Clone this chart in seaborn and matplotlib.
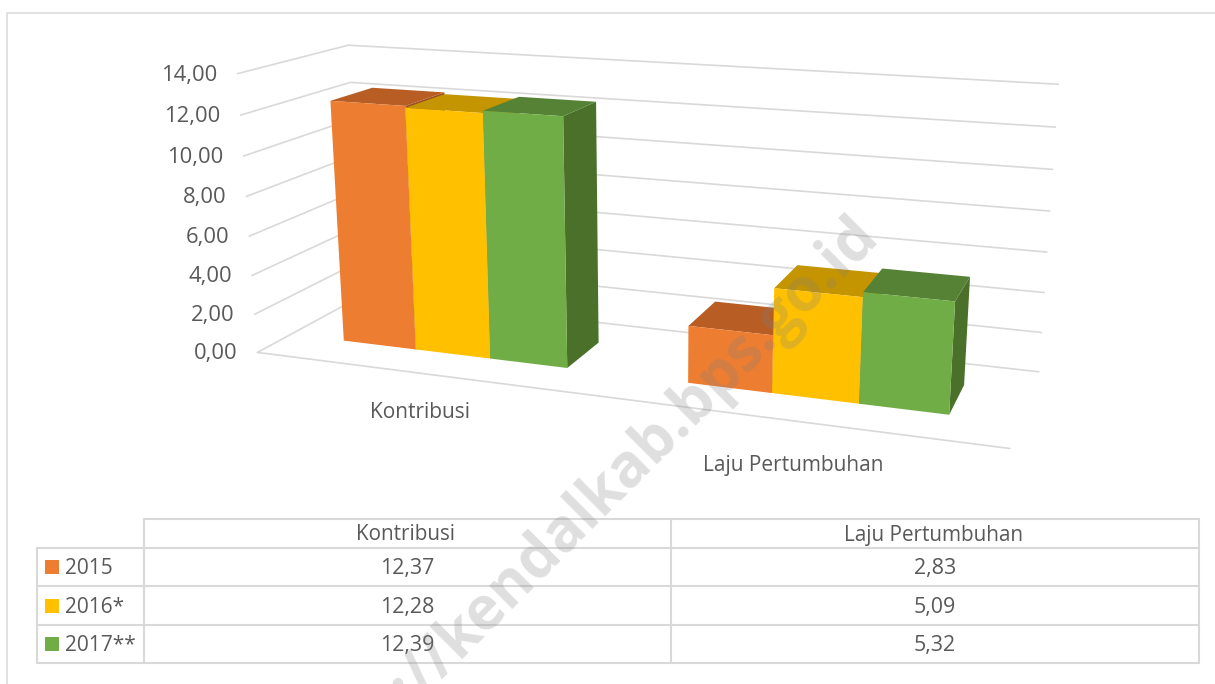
import numpy as np
import pandas as pd
import matplotlib
matplotlib.use('Agg')
import matplotlib.pyplot as plt
from matplotlib.patches import Polygon, Rectangle
import seaborn as sns

categories = ['Kontribusi', 'Laju Pertumbuhan']
years = ['2015', '2016*', '2017**']
values_2015 = [12.37, 2.83]
values_2016 = [12.28, 5.09]
values_2017 = [12.39, 5.32]
value_ticks = [0, 2, 4, 6, 8, 10, 12, 14]

front_colors = ['#ED7D31', '#FFC000', '#70AD47']
top_colors = ['#B85E25', '#C49500', '#558235']
side_colors = ['#9E5020', '#A88000', '#4A7029']
grid_color = '#D9D9D9'
text_color = '#595959'

# where the corners of the 3D box sit on the canvas, per gridline (0 to 14)
front_left_x = [257, 254, 252, 249, 247, 243, 241, 238]
front_left_y = [352, 314, 276, 236, 196, 157, 116, 73]
back_left_x = [362, 360, 358, 356, 354, 352, 350, 348]
back_left_y = [296, 262, 227, 191, 154, 119, 83, 45]
back_right_x = [1039, 1041, 1044, 1047, 1049, 1053, 1056, 1058]
back_right_y = [372, 333, 292, 252, 212, 169, 127, 84]
front_right_floor = (1010, 448)

group_centers = [0.25, 0.75]
bar_width = 0.111
bar_depth = (0.30, 0.70)


def fit_camera():
    # plain DLT fit from box corners to canvas pixels
    rows, rhs = [], []
    pts = []
    for i, v in enumerate(value_ticks):
        pts.append((0, 0, v / 14, front_left_x[i], front_left_y[i]))
        pts.append((0, 1, v / 14, back_left_x[i], back_left_y[i]))
        pts.append((1, 1, v / 14, back_right_x[i], back_right_y[i]))
    pts.append((1, 0, 0, front_right_floor[0], front_right_floor[1]))
    for u, d, v, x, y in pts:
        rows.append([u, d, v, 1, 0, 0, 0, 0, -x * u, -x * d, -x * v])
        rhs.append(x)
        rows.append([0, 0, 0, 0, u, d, v, 1, -y * u, -y * d, -y * v])
        rhs.append(y)
    p = np.linalg.lstsq(np.array(rows, float), np.array(rhs, float), rcond=None)[0]
    return np.append(p, 1).reshape(3, 4)


camera = fit_camera()


def project(u, d, v):
    x, y, w = camera @ np.array([u, d, v / 14, 1.0])
    return x / w, y / w


sns.set_theme(style='white')
plt.rcParams['font.family'] = ['Open Sans', 'DejaVu Sans']
palette = sns.color_palette(front_colors)

fig = plt.figure(figsize=(12.15, 6.84), dpi=100)
ax = fig.add_axes([0, 0, 1, 1])
ax.set_xlim(0, 1215)
ax.set_ylim(684, 0)
ax.axis('off')

# outer frame of the screenshot
ax.plot([7, 7, 1215], [684, 13, 13], color=grid_color, lw=1.1)

# gridlines on left wall and back wall, plus the front floor edge
rows = []
for v in value_ticks:
    for order, (u, d) in enumerate([(0, 0), (0, 1), (1, 1)]):
        x, y = project(u, d, v)
        rows.append({'x': x, 'y': y, 'line': f'v{v}', 'order': order})
for order, u in enumerate([0, 1]):
    x, y = project(u, 0, 0)
    rows.append({'x': x, 'y': y, 'line': 'floor', 'order': order})
grid_df = pd.DataFrame(rows)
sns.lineplot(data=grid_df, x='x', y='y', units='line', estimator=None, sort=False,
             color=grid_color, lw=1.2, ax=ax, legend=False)
ax.set_xlim(0, 1215)
ax.set_ylim(684, 0)

for v in value_ticks:
    x, y = project(0, 0, v)
    ax.text(x - 20, y + 1.5, f'{v:.2f}'.replace('.', ','), ha='right', va='center',
            fontsize=15.8, color=text_color)

series = [values_2015, values_2016, values_2017]
d0, d1 = bar_depth
for g, center in enumerate(group_centers):
    left = center - 1.5 * bar_width
    for s, vals in enumerate(series):
        u0 = left + s * bar_width
        u1 = u0 + bar_width
        v = vals[g]
        side = [project(u1, d0, 0), project(u1, d1, 0), project(u1, d1, v), project(u1, d0, v)]
        top = [project(u0, d0, v), project(u1, d0, v), project(u1, d1, v), project(u0, d1, v)]
        front = [project(u0, d0, 0), project(u1, d0, 0), project(u1, d0, v), project(u0, d0, v)]
        ax.add_patch(Polygon(side, closed=True, fc=side_colors[s], ec='none', zorder=3))
        ax.add_patch(Polygon(top, closed=True, fc=top_colors[s], ec='none', zorder=3))
        ax.add_patch(Polygon(front, closed=True, fc=palette[s], ec='none', zorder=3))

ax.text(420, 412, categories[0], ha='center', va='center', fontsize=15, color=text_color)
ax.text(793, 466, categories[1], ha='center', va='center', fontsize=15, color=text_color)

# data table under the chart
table_left, table_key, table_mid, table_right = 37, 144, 671, 1199
table_y = [519, 548, 586, 625, 663]
row_y = [567, 606, 644]
ax.plot([table_key, table_right], [table_y[0]] * 2, color=grid_color, lw=1.5)
for y in table_y[1:]:
    ax.plot([table_left, table_right], [y, y], color=grid_color, lw=1.5)
ax.plot([table_left, table_left], [table_y[1], table_y[4]], color=grid_color, lw=1.5)
for x in [table_key, table_mid, table_right]:
    ax.plot([x, x], [table_y[0], table_y[4]], color=grid_color, lw=1.5)

col_x = [(table_key + table_mid) / 2, (table_mid + table_right) / 2]
for c, name in enumerate(categories):
    ax.text(col_x[c] - 2, 535, name, ha='center', va='center', fontsize=14.9, color=text_color)
for r, (year, vals) in enumerate(zip(years, series)):
    ax.add_patch(Rectangle((45, row_y[r] - 7), 14, 14, fc=palette[r], ec='none'))
    ax.text(65, row_y[r] + 1.5, year, ha='left', va='center', fontsize=15, color=text_color)
    for c, val in enumerate(vals):
        ax.text(col_x[c], row_y[r] + 1.5, f'{val:.2f}'.replace('.', ','), ha='center', va='center',
                fontsize=15.4, color=text_color)

# watermark across the whole picture
ax.text(880, 237, 'https://kendalkab.bps.go.id', rotation=45, rotation_mode='anchor',
        ha='right', va='baseline', fontsize=43, fontweight='bold', color='#808080', alpha=0.25,
        zorder=10, clip_on=True)

fig.savefig('out.png', dpi=100)
plt.close(fig)
